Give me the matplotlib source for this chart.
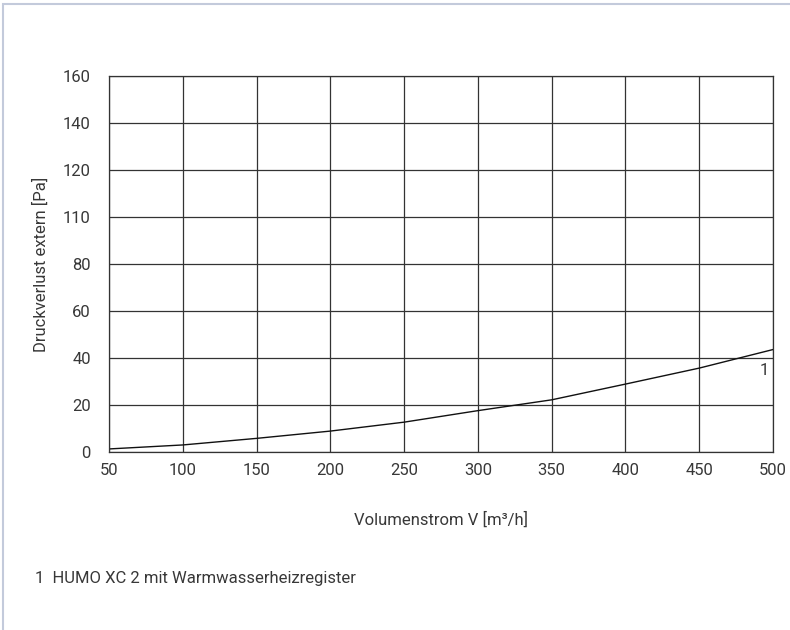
import matplotlib
matplotlib.use("Agg")
import matplotlib.pyplot as plt
from matplotlib.patches import Rectangle

# values
volumenstrom = [50, 100, 150, 200, 250, 300, 350, 400, 450, 500]
druckverlust = [1.3, 3.0, 5.8, 8.9, 12.7, 17.6, 22.2, 28.9, 35.7, 43.6]
x_ticks = [50, 100, 150, 200, 250, 300, 350, 400, 450, 500]
y_ticks = [0, 20, 40, 60, 80, 100, 120, 140, 160]
y_tick_labels = ["0", "20", "40", "60", "80", "110", "120", "140", "160"]
curve_label = "1"
footnote = "1  HUMO XC 2 mit Warmwasserheizregister"

plt.rcParams['font.family'] = ['Roboto', 'DejaVu Sans']
text_color = '#383838'
line_color = '#333333'
fs = 12

fig = plt.figure(figsize=(7.9, 6.3), dpi=100)
ax = fig.add_axes([109 / 790, 1 - 452 / 630, 664 / 790, 376 / 630])

ax.plot(volumenstrom, druckverlust, color='#111111', lw=1.0)
ax.text(497, 34.5, curve_label, ha='right', va='center', fontsize=fs, color=text_color)

ax.set_xlim(50, 500)
ax.set_ylim(0, 160)
ax.set_xticks(x_ticks)
ax.set_yticks(y_ticks)
ax.set_yticklabels(y_tick_labels)
ax.grid(True, color=line_color, lw=0.9)
ax.tick_params(length=0, labelsize=fs, labelcolor=text_color)
ax.tick_params(axis='y', pad=13)
ax.tick_params(axis='x', pad=8)
for s in ax.spines.values():
    s.set_color(line_color)
    s.set_linewidth(0.9)

ax.set_xlabel("Volumenstrom V [m³/h]", fontsize=fs, color=text_color, labelpad=24)
ax.set_ylabel("Druckverlust extern [Pa]", fontsize=fs, color=text_color, labelpad=10)

fig.text(35 / 790, 1 - 578 / 630, footnote, fontsize=fs, color=text_color, va='center')

# light frame round the figure (top and left edges visible)
fig.patches.append(Rectangle((3 / 790, -0.01), 1.0, 1 - 4 / 630 + 0.01, transform=fig.transFigure,
                             fill=False, edgecolor='#c3cadb', lw=1.5))

fig.savefig("out.png", dpi=100)
